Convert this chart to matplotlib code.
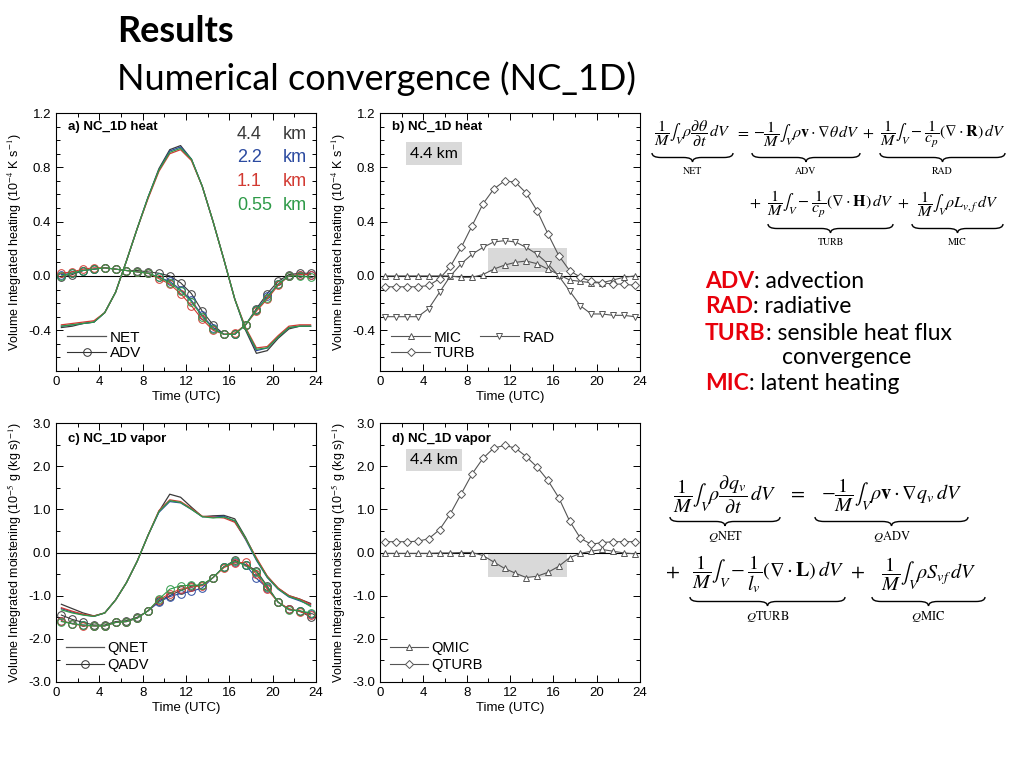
import matplotlib
matplotlib.use("Agg")
import matplotlib.pyplot as plt
from matplotlib.path import Path
from matplotlib.patches import PathPatch, Rectangle
from matplotlib.ticker import MultipleLocator

plt.rcParams['mathtext.fontset'] = 'stix'
plt.rcParams['font.family'] = ['Liberation Sans', 'DejaVu Sans']

# ---- data ----
hours = [h + 0.5 for h in range(24)]
resolutions = ['4.4', '2.2', '1.1', '0.55']
res_colors = ['#3a3a3a', '#2b4aa0', '#d23a32', '#2e9a48']

NET = {
    '4.4': [-0.38, -0.37, -0.35, -0.34, -0.27, -0.12, 0.11, 0.35, 0.58, 0.79, 0.93, 0.96,
            0.86, 0.66, 0.40, 0.12, -0.17, -0.40, -0.57, -0.55, -0.46, -0.39, -0.37, -0.37],
    '2.2': [-0.37, -0.36, -0.35, -0.34, -0.27, -0.12, 0.11, 0.35, 0.58, 0.78, 0.92, 0.95,
            0.86, 0.66, 0.40, 0.12, -0.17, -0.39, -0.55, -0.53, -0.45, -0.38, -0.37, -0.37],
    '1.1': [-0.36, -0.35, -0.34, -0.33, -0.27, -0.12, 0.11, 0.35, 0.57, 0.77, 0.90, 0.93,
            0.85, 0.66, 0.40, 0.12, -0.17, -0.38, -0.53, -0.52, -0.44, -0.37, -0.36, -0.36],
    '0.55': [-0.37, -0.36, -0.35, -0.34, -0.27, -0.12, 0.11, 0.35, 0.58, 0.78, 0.91, 0.94,
             0.86, 0.66, 0.40, 0.12, -0.17, -0.39, -0.54, -0.53, -0.45, -0.38, -0.37, -0.37],
}
ADV = {
    '4.4': [-0.01, 0.01, 0.04, 0.05, 0.06, 0.05, 0.04, 0.04, 0.03, 0.02, 0.00, -0.05,
            -0.13, -0.26, -0.36, -0.43, -0.43, -0.36, -0.24, -0.13, -0.04, 0.01, 0.02, 0.02],
    '2.2': [0.01, 0.02, 0.04, 0.05, 0.06, 0.05, 0.04, 0.03, 0.02, -0.01, -0.04, -0.10,
            -0.18, -0.29, -0.38, -0.43, -0.43, -0.36, -0.25, -0.15, -0.06, 0.00, 0.01, 0.01],
    '1.1': [0.02, 0.03, 0.05, 0.06, 0.06, 0.05, 0.04, 0.03, 0.02, -0.02, -0.06, -0.13,
            -0.22, -0.32, -0.40, -0.43, -0.42, -0.36, -0.26, -0.17, -0.07, 0.00, 0.01, 0.01],
    '0.55': [0.00, 0.02, 0.04, 0.05, 0.06, 0.05, 0.04, 0.03, 0.02, -0.01, -0.05, -0.11,
             -0.19, -0.30, -0.39, -0.43, -0.43, -0.36, -0.25, -0.16, -0.06, 0.00, 0.00, -0.01],
}

MIC = [0.00, 0.00, 0.00, 0.00, 0.00, 0.00, 0.00, -0.01, -0.01, 0.01, 0.05, 0.08,
       0.10, 0.11, 0.09, 0.05, 0.01, -0.03, -0.04, -0.05, -0.05, -0.03, -0.01, 0.00]
RAD = [-0.30, -0.30, -0.30, -0.30, -0.24, -0.12, 0.00, 0.09, 0.16, 0.21, 0.25, 0.26,
       0.25, 0.21, 0.16, 0.09, 0.00, -0.11, -0.22, -0.28, -0.28, -0.29, -0.29, -0.30]
TURB = [-0.08, -0.08, -0.08, -0.08, -0.07, -0.02, 0.07, 0.21, 0.37, 0.53, 0.64, 0.70,
        0.69, 0.61, 0.48, 0.31, 0.15, 0.04, -0.01, -0.04, -0.05, -0.06, -0.06, -0.07]

QNET = {
    '4.4': [-1.20, -1.30, -1.40, -1.47, -1.40, -1.10, -0.70, -0.20, 0.40, 0.95, 1.35, 1.28,
            1.05, 0.83, 0.85, 0.86, 0.78, 0.35, -0.15, -0.55, -0.83, -1.00, -1.08, -1.18],
    '2.2': [-1.30, -1.38, -1.44, -1.48, -1.40, -1.10, -0.70, -0.20, 0.40, 0.93, 1.18, 1.15,
            1.00, 0.83, 0.82, 0.84, 0.72, 0.30, -0.18, -0.58, -0.85, -1.03, -1.12, -1.22],
    '1.1': [-1.28, -1.36, -1.43, -1.47, -1.40, -1.10, -0.70, -0.20, 0.40, 0.97, 1.22, 1.18,
            1.02, 0.84, 0.82, 0.80, 0.70, 0.32, -0.12, -0.55, -0.82, -1.00, -1.08, -1.20],
    '0.55': [-1.33, -1.40, -1.45, -1.48, -1.40, -1.10, -0.70, -0.20, 0.40, 0.95, 1.20, 1.16,
             1.00, 0.83, 0.80, 0.82, 0.74, 0.33, -0.16, -0.57, -0.84, -1.02, -1.10, -1.25],
}
QADV = {
    '4.4': [-1.45, -1.55, -1.62, -1.68, -1.68, -1.60, -1.58, -1.50, -1.35, -1.12, -1.00, -0.88,
            -0.78, -0.75, -0.58, -0.33, -0.18, -0.28, -0.42, -0.78, -1.15, -1.32, -1.35, -1.50],
    '2.2': [-1.58, -1.65, -1.68, -1.70, -1.70, -1.62, -1.60, -1.52, -1.35, -1.15, -1.02, -0.95,
            -0.90, -0.82, -0.58, -0.33, -0.22, -0.28, -0.60, -0.82, -1.15, -1.32, -1.36, -1.42],
    '1.1': [-1.58, -1.65, -1.70, -1.70, -1.70, -1.62, -1.60, -1.52, -1.35, -1.10, -0.95, -0.85,
            -0.80, -0.77, -0.58, -0.35, -0.24, -0.23, -0.50, -0.85, -1.15, -1.30, -1.37, -1.45],
    '0.55': [-1.60, -1.65, -1.68, -1.70, -1.70, -1.62, -1.60, -1.52, -1.35, -1.08, -0.85, -0.77,
             -0.76, -0.75, -0.58, -0.33, -0.20, -0.30, -0.45, -0.80, -1.15, -1.33, -1.35, -1.40],
}

QMIC = [-0.02, -0.02, -0.02, -0.02, -0.02, -0.01, -0.01, 0.00, 0.00, -0.07, -0.22, -0.37,
        -0.48, -0.58, -0.55, -0.46, -0.32, -0.12, -0.02, 0.03, 0.07, 0.03, -0.01, -0.03]
QTURB = [0.25, 0.25, 0.25, 0.26, 0.32, 0.53, 0.90, 1.36, 1.82, 2.18, 2.42, 2.48,
         2.42, 2.22, 1.98, 1.67, 1.27, 0.73, 0.33, 0.19, 0.23, 0.25, 0.25, 0.25]

# highlight boxes (x0, x1, y0, y1) in data units
box_b = (10.0, 17.3, 0.03, 0.205)
box_d = (10.0, 17.3, -0.57, 0.0)

W, H = 1024, 768
fig = plt.figure(figsize=(W / 100, H / 100), dpi=100)


def px(x, y):
    return x / W, 1 - y / H


def make_ax(left, top, right, bottom):
    return fig.add_axes([left / W, 1 - bottom / H, (right - left) / W, (bottom - top) / H])


def style_ax(ax, ylim, ymin, ylab, ticklabels):
    ax.set_xlim(0, 24)
    ax.xaxis.set_major_locator(MultipleLocator(4))
    ax.xaxis.set_minor_locator(MultipleLocator(2))
    ax.yaxis.set_minor_locator(MultipleLocator(ymin))
    ax.set_yticks(ticklabels)
    ax.set_yticklabels(['%.1f' % t for t in ticklabels])
    ax.set_ylim(*ylim)
    ax.tick_params(which='both', direction='in', top=True, right=True, labelsize=9.5, width=0.7)
    ax.tick_params(which='major', length=5)
    ax.tick_params(which='minor', length=3)
    for s in ax.spines.values():
        s.set_linewidth(0.8)
    ax.axhline(0, color='k', lw=0.8, zorder=1)
    ax.set_xlabel('Time (UTC)', fontsize=9.5, labelpad=2)
    ax.set_ylabel(ylab, fontsize=9, labelpad=3)


heat_lab = r'Volume Integrated heating (10$^{-4}$ K s$^{-1}$)'
vap_lab = r'Volume Integrated moistening (10$^{-5}$ g (kg s)$^{-1}$)'
heat_ticks = [-0.4, 0.0, 0.4, 0.8, 1.2]
vap_ticks = [-3.0, -2.0, -1.0, 0.0, 1.0, 2.0, 3.0]
gray = '#555555'

# ---- panel a ----
ax = make_ax(56, 113, 316, 371)
for r, c in zip(resolutions, res_colors):
    ax.plot(hours, NET[r], color=c, lw=0.9)
    ax.plot(hours, ADV[r], color=c, lw=0.8, marker='o', ms=5.5, mfc='none', mew=0.7)
style_ax(ax, (-0.7, 1.2), 0.1, heat_lab, heat_ticks)
ax.text(0.045, 0.945, 'a) NC_1D heat', transform=ax.transAxes, fontsize=9.5,
        fontweight='bold', va='center')
for i, (r, c) in enumerate(zip(resolutions, res_colors)):
    yy = [0.915, 0.826, 0.736, 0.643][i]
    ax.text(0.696, yy, r, transform=ax.transAxes, color=c, fontsize=13, va='center')
    ax.text(0.873, yy, 'km', transform=ax.transAxes, color=c, fontsize=13, va='center')
h1, = ax.plot([], [], color=gray, lw=0.9, label='NET')
h2, = ax.plot([], [], color='#333333', lw=0.8, marker='o', ms=5.5, mfc='none', mew=0.7, label='ADV')
ax.legend(handles=[h1, h2], loc='lower left', frameon=False, fontsize=11, handlelength=2.6,
          labelspacing=0.1, handletextpad=0.2, borderaxespad=0.3)

# ---- panel b ----
ax = make_ax(380, 113, 640, 371)
ax.add_patch(Rectangle((box_b[0], box_b[2]), box_b[1] - box_b[0], box_b[3] - box_b[2],
                       color='#d9d9d9', zorder=0, lw=0))
lm, = ax.plot(hours, MIC, color=gray, lw=0.8, marker='^', ms=5, mfc='white', mew=0.7, label='MIC')
lt, = ax.plot(hours, TURB, color=gray, lw=0.8, marker='D', ms=3.8, mfc='white', mew=0.7, label='TURB')
lr, = ax.plot(hours, RAD, color=gray, lw=0.8, marker='v', ms=5, mfc='white', mew=0.7, label='RAD')
style_ax(ax, (-0.7, 1.2), 0.1, heat_lab, heat_ticks)
ax.text(0.045, 0.945, 'b) NC_1D heat', transform=ax.transAxes, fontsize=9.5,
        fontweight='bold', va='center')
ax.text(0.115, 0.843, '4.4 km', transform=ax.transAxes, fontsize=11.5, va='center',
        family='Lato', bbox=dict(fc='#d9d9d9', ec='none', pad=3))
ax.legend(handles=[lm, lt, lr], loc='lower left', frameon=False, fontsize=11, ncol=2,
          handlelength=2.6, labelspacing=0.1, handletextpad=0.2, columnspacing=0.3,
          borderaxespad=0.3)

# ---- panel c ----
ax = make_ax(56, 423, 316, 682)
for r, c in zip(resolutions, res_colors):
    ax.plot(hours, QNET[r], color=c, lw=0.9)
    ax.plot(hours, QADV[r], color=c, lw=0.8, marker='o', ms=5.5, mfc='none', mew=0.7)
style_ax(ax, (-3.0, 3.0), 0.5, vap_lab, vap_ticks)
ax.text(0.045, 0.94, 'c) NC_1D vapor', transform=ax.transAxes, fontsize=9.5,
        fontweight='bold', va='center')
h1, = ax.plot([], [], color=gray, lw=0.9, label='QNET')
h2, = ax.plot([], [], color='#333333', lw=0.8, marker='o', ms=5.5, mfc='none', mew=0.7, label='QADV')
ax.legend(handles=[h1, h2], loc='lower left', frameon=False, fontsize=10.5, handlelength=2.6,
          labelspacing=0.2, handletextpad=0.2, borderaxespad=0.3)

# ---- panel d ----
ax = make_ax(380, 423, 640, 682)
ax.add_patch(Rectangle((box_d[0], box_d[2]), box_d[1] - box_d[0], box_d[3] - box_d[2],
                       color='#d9d9d9', zorder=0, lw=0))
l1, = ax.plot(hours, QMIC, color=gray, lw=0.8, marker='^', ms=5, mfc='white', mew=0.7, label='QMIC')
l2, = ax.plot(hours, QTURB, color=gray, lw=0.8, marker='D', ms=3.8, mfc='white', mew=0.7, label='QTURB')
style_ax(ax, (-3.0, 3.0), 0.5, vap_lab, vap_ticks)
ax.text(0.045, 0.94, 'd) NC_1D vapor', transform=ax.transAxes, fontsize=9.5,
        fontweight='bold', va='center')
ax.text(0.115, 0.857, '4.4 km', transform=ax.transAxes, fontsize=11.5, va='center',
        family='Lato', bbox=dict(fc='#d9d9d9', ec='none', pad=3))
ax.legend(handles=[l1, l2], loc='lower left', frameon=False, fontsize=10.5, handlelength=2.6,
          labelspacing=0.2, handletextpad=0.2, borderaxespad=0.3)

# ---- slide text ----
fig.text(*px(117, 31), 'Results', fontsize=26, fontweight='bold', family='Lato', va='center')
fig.text(*px(117, 79), 'Numerical convergence (NC_1D)', fontsize=26, family='Lato', va='center')

notes = [('ADV', ': advection', 282), ('RAD', ': radiative', 307),
         ('TURB', ': sensible heat flux', 333), ('MIC', ': latent heating', 384)]
for key, rest, yy in notes:
    t = fig.text(*px(705, yy), key, fontsize=16.5, fontweight='bold', color='#e8000b',
                 family='Lato', va='center')
    fig.canvas.draw()
    bb = t.get_window_extent()
    fig.text(bb.x1 / W, 1 - yy / H, rest, fontsize=16.5, family='Lato', va='center')
fig.text(*px(782, 358), 'convergence', fontsize=16.5, family='Lato', va='center')


# ---- equations ----
def brace(x0, x1, y, h=9):
    xm = (x0 + x1) / 2
    pts = [(x0, y), (x0, y + h / 2), (x0 + h, y + h / 2),
           (xm - h, y + h / 2), (xm, y + h / 2), (xm, y + h),
           (xm, y + h / 2), (xm + h, y + h / 2),
           (x1 - h, y + h / 2), (x1, y + h / 2), (x1, y)]
    codes = [Path.MOVETO, Path.CURVE3, Path.CURVE3, Path.LINETO, Path.CURVE3, Path.CURVE3,
             Path.CURVE3, Path.CURVE3, Path.LINETO, Path.CURVE3, Path.CURVE3]
    verts = [px(a, b) for a, b in pts]
    fig.add_artist(PathPatch(Path(verts, codes), fc='none', ec='k', lw=1.0,
                             transform=fig.transFigure))


def term(tex, x0, x1, y, by, label, ly, fs):
    fig.text(*px((x0 + x1) / 2, y), tex, fontsize=fs, ha='center', va='center')
    brace(x0, x1, by)
    fig.text(*px((x0 + x1) / 2, ly), label, fontsize=fs * 0.62, ha='center', va='center',
             family='STIXGeneral')


fs1 = 11.5
term(r'$\dfrac{1}{M}\int_V \rho\dfrac{\partial\theta}{\partial t}\,dV$', 652, 733, 134, 153, 'NET', 171, fs1)
fig.text(*px(742, 132), r'$=$', fontsize=fs1, ha='center', va='center')
term(r'$-\dfrac{1}{M}\int_V \rho\mathbf{v}\cdot\nabla\theta\,dV$', 752, 860, 134, 153, 'ADV', 171, fs1)
fig.text(*px(868, 132), r'$+$', fontsize=fs1, ha='center', va='center')
term(r'$\dfrac{1}{M}\int_V -\dfrac{1}{c_p}(\nabla\cdot\mathbf{R})\,dV$', 880, 1005, 134, 153, 'RAD', 171, fs1)
fig.text(*px(755, 202), r'$+$', fontsize=fs1, ha='center', va='center')
term(r'$\dfrac{1}{M}\int_V -\dfrac{1}{c_p}(\nabla\cdot\mathbf{H})\,dV$', 768, 893, 204, 224, 'TURB', 242, fs1)
fig.text(*px(903, 202), r'$+$', fontsize=fs1, ha='center', va='center')
term(r'$\dfrac{1}{M}\int_V \rho L_{v,f}\,dV$', 912, 1003, 204, 224, 'MIC', 242, fs1)

fs2 = 14.5
term(r'$\dfrac{1}{M}\int_V \rho\dfrac{\partial q_v}{\partial t}\,dV$', 670, 780, 495, 517, r'$Q$NET', 537, fs2)
fig.text(*px(797, 493), r'$=$', fontsize=fs2, ha='center', va='center')
term(r'$-\dfrac{1}{M}\int_V \rho\mathbf{v}\cdot\nabla q_v\,dV$', 815, 968, 495, 517, r'$Q$ADV', 537, fs2)
fig.text(*px(672, 572), r'$+$', fontsize=fs2, ha='center', va='center')
term(r'$\dfrac{1}{M}\int_V -\dfrac{1}{l_v}(\nabla\cdot\mathbf{L})\,dV$', 690, 845, 574, 597, r'$Q$TURB', 617, fs2)
fig.text(*px(857, 572), r'$+$', fontsize=fs2, ha='center', va='center')
term(r'$\dfrac{1}{M}\int_V \rho S_{vf}\,dV$', 872, 985, 574, 597, r'$Q$MIC', 617, fs2)

fig.savefig('out.png', dpi=100)
